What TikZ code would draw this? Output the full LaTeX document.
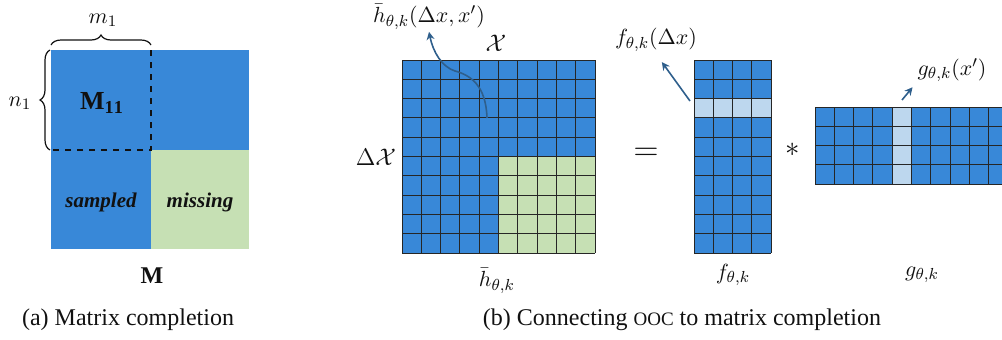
\documentclass[tikz,border=0pt]{standalone}
\usepackage{amsmath}
\usepackage{fontspec}
\setmainfont{Liberation Serif}
\usepackage{tikz}
\usetikzlibrary{arrows.meta,positioning,calc,decorations.pathreplacing}
\definecolor{McBlue}{HTML}{3888D8}
\definecolor{McGreen}{HTML}{C6E0B4}
\definecolor{McSky}{HTML}{BDD7EE}
\definecolor{McInk}{HTML}{111111}
\definecolor{McGrid}{HTML}{262626}
\definecolor{McArrow}{HTML}{2F5F8C}
\tikzset{
  mclabel/.style={font=\fontsize{11}{13}\selectfont, text=McInk, inner sep=1pt},
  mcword/.style={font=\fontsize{10.5}{12}\selectfont\bfseries\itshape, text=McInk},
  mccaption/.style={font=\fontsize{12}{14}\selectfont, text=McInk, anchor=base},
  mcblock/.style={fill=McBlue},
  mcmiss/.style={fill=McGreen},
  mcpick/.style={fill=McSky},
  mccell/.style={draw=McGrid, line width=0.5pt},
  mcdash/.style={dashed, line width=0.8pt, draw=McInk},
  mcbrace/.style={decorate, decoration={brace, amplitude=5pt}, line width=0.6pt, draw=McInk},
  mcarrow/.style={-{Stealth[length=4pt,width=4pt]}, line width=0.8pt, draw=McArrow}
}
% x, y, columns, rows (cell of 19.3 units)
\newcommand{\cellgrid}[4]{%
  \foreach \gi in {0,...,#3} \draw[mccell] ({#1+\gi*19.3},#2) -- ({#1+\gi*19.3},{#2+#4*19.3});
  \foreach \gi in {0,...,#4} \draw[mccell] (#1,{#2+\gi*19.3}) -- ({#1+#3*19.3},{#2+\gi*19.3});
}

\begin{document}
\begin{tikzpicture}[x=0.5pt, y=-0.5pt, every node/.style={mclabel}]
\useasboundingbox (0,0) rectangle (1002,339);
% (a) matrix completion
\path[mcblock] (51,50) rectangle (249,249);
\path[mcmiss] (151,150) rectangle (249,249);
\draw[mcdash] (151,50) -- (151,150) -- (51,150);
\draw[mcbrace] (51,45) -- (151,45);
\draw[mcbrace] (50,150) -- (50,50);
\node (m1) at (103,20) {$m_1$};
\node (n1) at (20,103) {$n_1$};
\node[font=\fontsize{13}{15}\selectfont] (m11) at (102,103) {$\mathbf{M}_{\mathbf{11}}$};
\node[mcword] (samp) at (101,202) {sampled};
\node[mcword] (miss) at (200,202) {missing};
\node[font=\fontsize{12}{14}\selectfont] (mat) at (152,276) {$\mathbf{M}$};
\node[mccaption] (capa) at (128,325) {(a) Matrix completion};
% (b) OOC as matrix completion
\path[mcblock] (402,60) rectangle (595,253);
\path[mcmiss] (498.5,156.5) rectangle (595,253);
\cellgrid{402}{60}{10}{10}
\path[mcblock] (694,60) rectangle (771.2,253);
\path[mcpick] (694,98.6) rectangle (771.2,117.9);
\cellgrid{694}{60}{4}{10}
\begin{scope}
\clip (800,100) rectangle (1002,190);
\path[mcblock] (815,107) rectangle (1008,184.2);
\path[mcpick] (892.2,107) rectangle (911.5,184.2);
\cellgrid{815}{107}{10}{4}
\end{scope}
\node[font=\fontsize{12}{14}\selectfont] (xlab) at (496,43) {$\mathcal{X}$};
\node[font=\fontsize{12}{14}\selectfont] (dxlab) at (376,157) {$\Delta\mathcal{X}$};
\node (hlab) at (497,281) {$\bar{h}_{\theta,k}$};
\node (hval) at (429,17) {$\bar{h}_{\theta,k}(\Delta x, x')$};
\node[font=\fontsize{18}{20}\selectfont] (eq) at (646,154) {$=$};
\node[font=\fontsize{15}{17}\selectfont] (star) at (793,150) {$*$};
\node (flab) at (733,275) {$f_{\theta,k}$};
\node (fval) at (656,40) {$f_{\theta,k}(\Delta x)$};
\node (glab) at (922,275) {$g_{\theta,k}$};
\node (gval) at (952,70) {$g_{\theta,k}(x')$};
\coordinate (hcell) at (487,118);
\coordinate (fcell) at (690,101);
\coordinate (gcell) at (902,100);
\draw[mcarrow] (hcell) .. controls (486,85) and (470,75) .. (455,71) .. controls (442,67) and (433,52) .. (hval.south);
\draw[mcarrow, shorten >=5pt] (fcell) -- (fval.south);
\draw[mcarrow, shorten >=2pt] (gcell) -- (gval.south west);
\node[mccaption] (capb) at (682,325) {(b) Connecting {\fontsize{9.5}{11}\selectfont OOC} to matrix completion};
\end{tikzpicture}
\end{document}
